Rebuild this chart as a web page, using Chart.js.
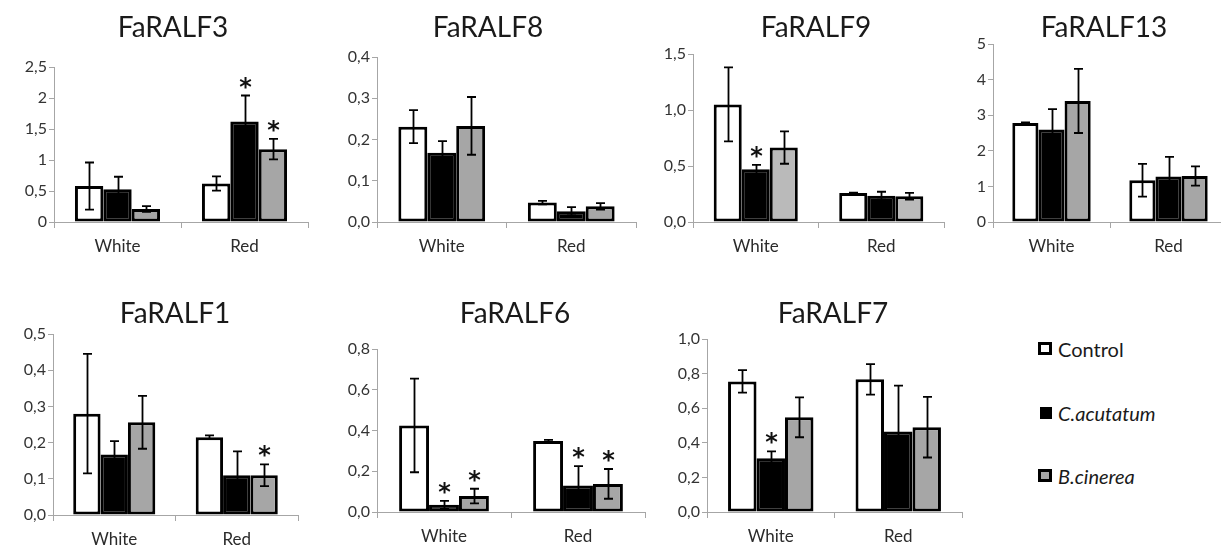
<!DOCTYPE html>
<html>
<head>
<meta charset="utf-8">
<script src="https://cdn.jsdelivr.net/npm/chart.js@4.4.1/dist/chart.umd.min.js"></script>
<style>
  html, body { margin: 0; padding: 0; background: #fff; width: 1221px; height: 546px; overflow: hidden; position: relative; }
  canvas { position: absolute; }
  .key { position: absolute; left: 1038px; font-family: Lato, sans-serif; font-size: 20px; color: #1a1a1a; line-height: 20px; white-space: nowrap; }
  .key i.sw { position: absolute; left: 0; box-sizing: border-box; border: 3px solid #000; }
  .key span { position: absolute; left: 20px; top: 0; }
</style>
</head>
<body>
<script>
// Fruit stages and treatments
const stages = ['White', 'Red'];
const treatments = ['Control', 'C.acutatum', 'B.cinerea'];

// FaRALF3 relative expression: [White, Red] per treatment
const ralf3Control = [0.58, 0.62];
const ralf3Cacut   = [0.53, 1.62];
const ralf3Bcin    = [0.21, 1.175];
const ralf3ControlErr = [0.38, 0.115];
const ralf3CacutErr   = [0.20, 0.42];
const ralf3BcinErr    = [0.045, 0.165];
const ralf3CacutSig = [false, true];
const ralf3BcinSig  = [false, true];
const ralf3Ticks = ['0', '0,5', '1', '1,5', '2', '2,5'];

// FaRALF8
const ralf8Control = [0.231, 0.047];
const ralf8Cacut   = [0.168, 0.026];
const ralf8Bcin    = [0.233, 0.038];
const ralf8ControlErr = [0.04, 0.004];
const ralf8CacutErr   = [0.028, 0.010];
const ralf8BcinErr    = [0.07, 0.008];
const ralf8Ticks = ['0,0', '0,1', '0,2', '0,3', '0,4'];

// FaRALF9
const ralf9Control = [1.05, 0.26];
const ralf9Cacut   = [0.47, 0.235];
const ralf9Bcin    = [0.665, 0.23];
const ralf9ControlErr = [0.33, 0.003];
const ralf9CacutErr   = [0.04, 0.035];
const ralf9BcinErr    = [0.145, 0.03];
const ralf9CacutSig = [true, false];
const ralf9Ticks = ['0,0', '0,5', '1,0', '1,5'];

// FaRALF13
const ralf13Control = [2.78, 1.17];
const ralf13Cacut   = [2.6, 1.28];
const ralf13Bcin    = [3.4, 1.29];
const ralf13ControlErr = [0.02, 0.46];
const ralf13CacutErr   = [0.57, 0.55];
const ralf13BcinErr    = [0.9, 0.27];
const ralf13Ticks = ['0', '1', '2', '3', '4', '5'];

// FaRALF1
const ralf1Control = [0.28, 0.215];
const ralf1Cacut   = [0.167, 0.11];
const ralf1Bcin    = [0.256, 0.11];
const ralf1ControlErr = [0.165, 0.005];
const ralf1CacutErr   = [0.037, 0.066];
const ralf1BcinErr    = [0.073, 0.03];
const ralf1BcinSig  = [false, true];
const ralf1Ticks = ['0,0', '0,1', '0,2', '0,3', '0,4', '0,5'];

// FaRALF6
const ralf6Control = [0.425, 0.348];
const ralf6Cacut   = [0.035, 0.13];
const ralf6Bcin    = [0.078, 0.138];
const ralf6ControlErr = [0.23, 0.006];
const ralf6CacutErr   = [0.02, 0.095];
const ralf6BcinErr    = [0.036, 0.073];
const ralf6CacutSig = [true, true];
const ralf6BcinSig  = [true, true];
const ralf6Ticks = ['0,0', '0,2', '0,4', '0,6', '0,8'];

// FaRALF7
const ralf7Control = [0.755, 0.767];
const ralf7Cacut   = [0.31, 0.465];
const ralf7Bcin    = [0.547, 0.49];
const ralf7ControlErr = [0.065, 0.088];
const ralf7CacutErr   = [0.04, 0.265];
const ralf7BcinErr    = [0.115, 0.175];
const ralf7CacutSig = [true, false];
const ralf7Ticks = ['0,0', '0,2', '0,4', '0,6', '0,8', '1,0'];

const noSig = [false, false];

// Panel placement on the page (plot-area edges in page pixels)
const panels = [
  { title: 'FaRALF3',  means: [ralf3Control, ralf3Cacut, ralf3Bcin], errs: [ralf3ControlErr, ralf3CacutErr, ralf3BcinErr], sigs: [noSig, ralf3CacutSig, ralf3BcinSig], ticks: ralf3Ticks, max: 2.5, step: 0.5,
    axisX: 54, right: 308, top: 67, bottom: 222, rowTop: 0, titleX: 173, titleY: 37, gray: '#a6a6a6' },
  { title: 'FaRALF8',  means: [ralf8Control, ralf8Cacut, ralf8Bcin], errs: [ralf8ControlErr, ralf8CacutErr, ralf8BcinErr], sigs: [noSig, noSig, noSig], ticks: ralf8Ticks, max: 0.4, step: 0.1,
    axisX: 377, right: 636, top: 57, bottom: 222, rowTop: 0, titleX: 488, titleY: 37, gray: '#a6a6a6' },
  { title: 'FaRALF9',  means: [ralf9Control, ralf9Cacut, ralf9Bcin], errs: [ralf9ControlErr, ralf9CacutErr, ralf9BcinErr], sigs: [noSig, ralf9CacutSig, noSig], ticks: ralf9Ticks, max: 1.5, step: 0.5,
    axisX: 693, right: 944, top: 54, bottom: 222, rowTop: 0, titleX: 816, titleY: 37, gray: '#bababa' },
  { title: 'FaRALF13', means: [ralf13Control, ralf13Cacut, ralf13Bcin], errs: [ralf13ControlErr, ralf13CacutErr, ralf13BcinErr], sigs: [noSig, noSig, noSig], ticks: ralf13Ticks, max: 5, step: 1,
    axisX: 993, right: 1227, top: 44, bottom: 222, rowTop: 0, titleX: 1104, titleY: 37, gray: '#a6a6a6' },
  { title: 'FaRALF1',  means: [ralf1Control, ralf1Cacut, ralf1Bcin], errs: [ralf1ControlErr, ralf1CacutErr, ralf1BcinErr], sigs: [noSig, noSig, ralf1BcinSig], ticks: ralf1Ticks, max: 0.5, step: 0.1,
    axisX: 53, right: 298, top: 334, bottom: 515, rowTop: 280, titleX: 175, titleY: 323, gray: '#a6a6a6' },
  { title: 'FaRALF6',  means: [ralf6Control, ralf6Cacut, ralf6Bcin], errs: [ralf6ControlErr, ralf6CacutErr, ralf6BcinErr], sigs: [noSig, ralf6CacutSig, ralf6BcinSig], ticks: ralf6Ticks, max: 0.8, step: 0.2,
    axisX: 377, right: 645, top: 349, bottom: 512, rowTop: 280, titleX: 515, titleY: 323, gray: '#a6a6a6' },
  { title: 'FaRALF7',  means: [ralf7Control, ralf7Cacut, ralf7Bcin], errs: [ralf7ControlErr, ralf7CacutErr, ralf7BcinErr], sigs: [noSig, ralf7CacutSig, noSig], ticks: ralf7Ticks, max: 1.0, step: 0.2,
    axisX: 707, right: 962, top: 339, bottom: 512, rowTop: 280, titleX: 833, titleY: 323, gray: '#a6a6a6' }
];

const AXIS_GRAY = '#a6a6a6';
const Y_AXIS_W = 50;
const X_AXIS_H = 40;
const CANVAS_H = 270;

// Error bars, significance stars and the panel heading
const panelDecor = {
  id: 'panelDecor',
  afterDatasetsDraw(chart, args, opts) {
    const ctx = chart.ctx;
    const ys = chart.scales.y;
    ctx.save();
    chart.data.datasets.forEach((ds, di) => {
      const meta = chart.getDatasetMeta(di);
      meta.data.forEach((bar, i) => {
        const v = ds.data[i], e = ds.errors[i];
        const yt = ys.getPixelForValue(v + e);
        const yb = ys.getPixelForValue(Math.max(0, v - e));
        const x = Math.round(bar.x) + 0.5;
        ctx.strokeStyle = '#000';
        ctx.lineWidth = 1.8;
        ctx.beginPath();
        ctx.moveTo(x, yt); ctx.lineTo(x, yb);
        ctx.moveTo(x - 4.5, yt); ctx.lineTo(x + 4.5, yt);
        ctx.moveTo(x - 4.5, yb); ctx.lineTo(x + 4.5, yb);
        ctx.stroke();
        if (ds.sig[i]) {
          ctx.font = 'bold 24px "DejaVu Sans"';
          ctx.fillStyle = '#111';
          ctx.textAlign = 'center';
          ctx.textBaseline = 'alphabetic';
          const m = ctx.measureText('*');
          const mid = (m.actualBoundingBoxAscent - m.actualBoundingBoxDescent) / 2;
          ctx.fillText('*', x, yt - 13 + mid);
        }
      });
    });
    ctx.font = '28px Lato';
    ctx.fillStyle = '#1a1a1a';
    ctx.textAlign = 'center';
    ctx.textBaseline = 'alphabetic';
    ctx.fillText(opts.text, opts.x, opts.y);
    ctx.restore();
  }
};

panels.forEach(p => {
  const canvas = document.createElement('canvas');
  const left = p.axisX - Y_AXIS_W;
  const width = p.right - left + 12;
  canvas.width = width;
  canvas.height = CANVAS_H;
  canvas.style.left = left + 'px';
  canvas.style.top = p.rowTop + 'px';
  canvas.style.width = width + 'px';
  canvas.style.height = CANVAS_H + 'px';
  document.body.appendChild(canvas);

  const fills = ['#ffffff', '#000000', p.gray];
  const datasets = treatments.map((name, k) => ({
    label: name,
    data: p.means[k],
    errors: p.errs[k],
    sig: p.sigs[k],
    backgroundColor: fills[k],
    borderColor: '#000',
    borderWidth: 3,
    borderSkipped: false,
    barPercentage: 1,
    categoryPercentage: 0.67
  }));

  new Chart(canvas, {
    type: 'bar',
    data: { labels: stages, datasets },
    plugins: [panelDecor],
    options: {
      responsive: false,
      animation: false,
      devicePixelRatio: 1,
      layout: {
        padding: {
          left: 0,
          top: p.top - p.rowTop,
          right: width - (p.right - left),
          bottom: CANVAS_H - (p.bottom - p.rowTop) - X_AXIS_H
        }
      },
      plugins: {
        legend: { display: false },
        title: { display: false },
        tooltip: { enabled: false },
        panelDecor: { text: p.title, x: p.titleX - left, y: p.titleY - p.rowTop }
      },
      scales: {
        x: {
          type: 'category',
          offset: true,
          grid: { display: true, offset: true, drawOnChartArea: false, color: AXIS_GRAY, tickLength: 6, lineWidth: 1 },
          border: { color: AXIS_GRAY, width: 1 },
          ticks: { font: { family: 'Lato', size: 17 }, color: '#2b2b2b', padding: 8, maxRotation: 0 },
          afterFit(scale) { scale.height = X_AXIS_H; }
        },
        y: {
          min: 0,
          max: p.max,
          ticks: {
            stepSize: p.step,
            font: { family: 'Lato', size: 16 },
            color: '#333',
            padding: 2,
            callback: (val, idx) => p.ticks[idx]
          },
          grid: { drawOnChartArea: false, color: AXIS_GRAY, tickLength: 5, lineWidth: 1 },
          border: { color: AXIS_GRAY, width: 1 },
          afterFit(scale) { scale.width = Y_AXIS_W; }
        }
      }
    }
  });
});

// Treatment key
const keyCentres = [349, 413, 476];
const keyFills = ['#ffffff', '#000000', '#a6a6a6'];
treatments.forEach((name, k) => {
  const row = document.createElement('div');
  row.className = 'key';
  row.style.top = (keyCentres[k] - 10) + 'px';
  const sw = document.createElement('i');
  sw.className = 'sw';
  sw.style.background = keyFills[k];
  if (k === 1) { sw.style.left = '2px'; sw.style.width = '12px'; sw.style.height = '12px'; sw.style.top = '4px'; sw.style.border = 'none'; }
  else { sw.style.width = '14px'; sw.style.height = '13px'; sw.style.top = '3px'; }
  const tx = document.createElement('span');
  tx.textContent = name;
  if (k > 0) tx.style.fontStyle = 'italic';
  row.appendChild(sw);
  row.appendChild(tx);
  document.body.appendChild(row);
});
</script>
</body>
</html>
